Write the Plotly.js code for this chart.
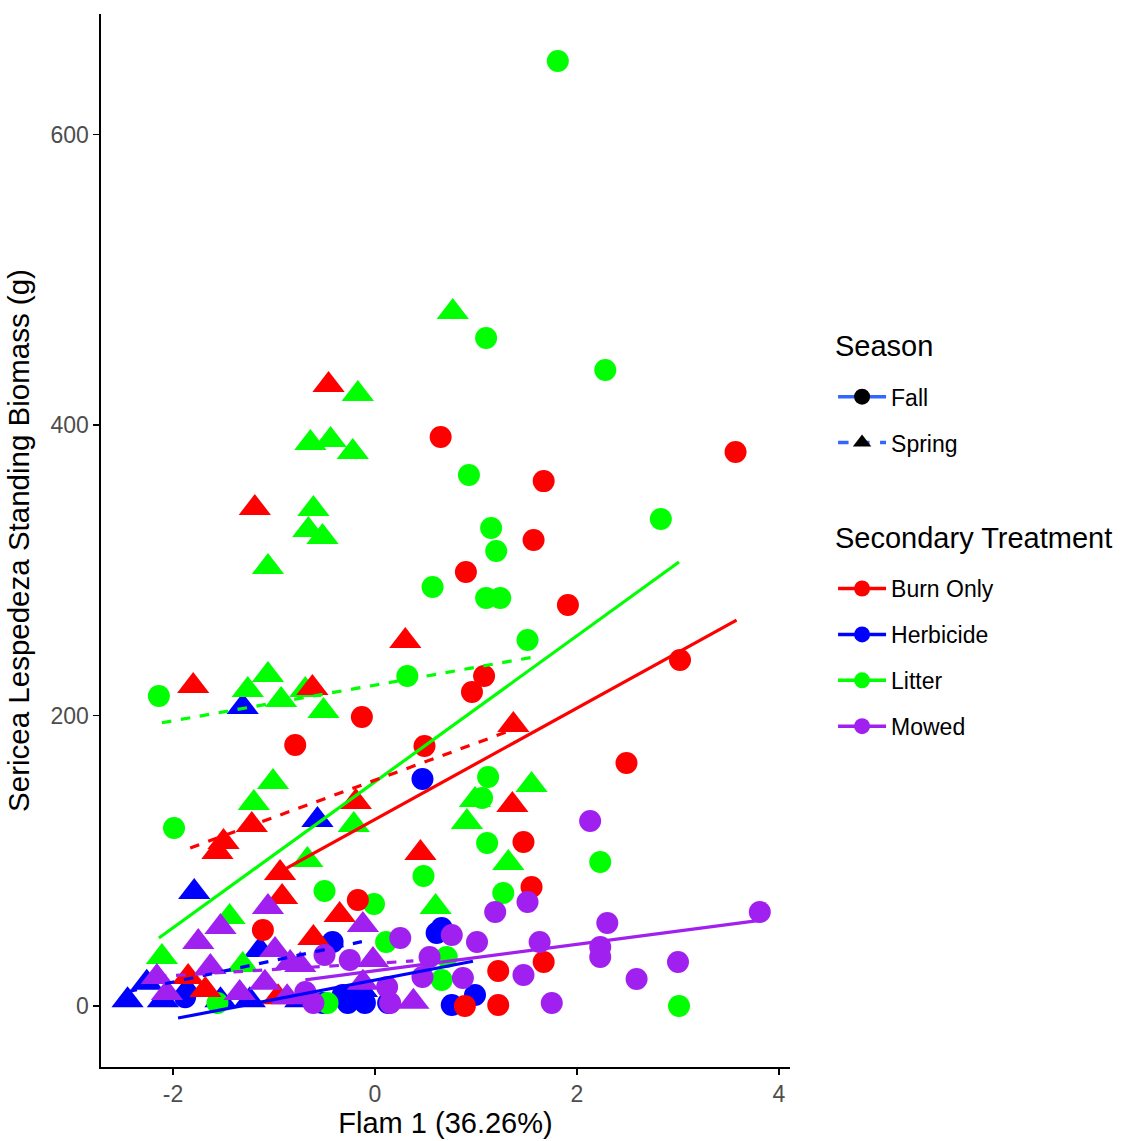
<!DOCTYPE html>
<html>
<head>
<meta charset="utf-8">
<script src="https://cdn.plot.ly/plotly-3.0.1.min.js"></script>
<style>html,body{margin:0;padding:0;background:#fff;}#chart{width:1126px;height:1141px;}</style>
</head>
<body>
<div id="chart"></div>
<script>
// ---- Data (x = Flam 1 score, y = biomass g) ----
const burnFallX = [0.65,1.67,1.57,0.90,1.91,1.08,0.96,3.57,3.02,-0.13,-0.79,0.49,1.47,2.49,1.55,-0.17,-1.11,1.67,1.22,1.22,0.89];
const burnFallY = [391.7,361.4,320.8,298.8,276.1,227.2,216.2,381.4,238.2,199,179.7,179,112.9,167.3,81.9,73,52.3,30.3,24.1,0.7,0];
const burnSpringX = [-0.46,-1.19,0.30,-1.80,-0.62,1.37,-1.22,-1.50,-1.56,-0.19,1.36,0.45,-0.94,-0.92,-0.35,-0.61,-1.85,-1.68,-0.96];
const burnSpringY = [427.5,342.9,251.3,220.3,218.9,193.5,124.6,112.9,106,140.4,138.4,105.3,91.6,75,62.7,46.8,20,11,6];

const herbFallX = [0.47,-0.42,0.61,0.66,0.99,0.76,-0.32,-0.27,-0.10,0.13,-0.52,-1.88];
const herbFallY = [156.3,44,50.3,53.7,7.6,0.7,7.6,2,2,2,2,6];
const herbSpringX = [-1.31,-0.57,-1.79,-1.14,-2.45,-2.10,-1.86,-1.53,-1.24,-0.74,-2.26,-0.13];
const herbSpringY = [205.9,128,78.5,38.6,4,4,11,4,4,4,16,11];

const litFallX = [1.81,1.10,2.28,0.93,2.83,1.15,1.20,0.57,1.10,1.24,1.51,0.32,-2.14,-1.99,1.12,1.06,1.11,2.23,-0.50,-0.01,0.48,1.27,3.01,0.66,0.71,0.11,-0.47,-1.56];
const litFallY = [650.6,459.9,437.9,365.6,335.3,329.1,313.3,288.5,280.9,280.9,252,227.2,213.4,122.5,157.7,143.2,112.2,99.1,79.2,70.2,89.5,77.8,0,17.9,33.7,44,2,2];
const litSpringX = [0.77,-0.17,-0.64,-0.44,-0.22,-0.61,-0.66,-0.52,-1.06,-1.26,-1.06,-0.93,-0.51,-0.69,-1.01,-1.20,-0.21,-0.67,-1.44,-2.11,-1.31,0.60,1.32,1.55,0.99,0.91];
const litSpringY = [477.8,421.3,387.6,389.7,381.4,342.2,327.7,322.9,302.2,217.6,227.9,210.7,203.1,217.6,154.2,139.8,124.6,100.5,61.3,33.7,28.2,68.2,98.5,152.2,141.8,126.7];

const mowFallX = [2.13,1.51,1.19,3.81,2.30,2.23,2.23,3.00,2.59,1.75,1.47,1.63,1.01,0.76,0.25,0.54,0.47,0.87,0.12,0.15,-0.50,-0.69,-0.61,-0.25];
const mowFallY = [127.4,71.6,64.7,64.7,57.1,40.6,33.7,30.3,18.6,2,21.3,44,44,48.9,46.8,33.7,20,19.3,13,2,35.1,9.6,2,31.7];
const mowSpringX = [-2.16,-1.75,-1.53,-1.63,-1.06,-0.99,-0.84,-0.12,-0.02,-2.06,-1.34,-0.87,0.38,-0.74,-0.12,-1.09];
const mowSpringY = [20,44,54.4,26.8,68.2,38.6,29.6,55.8,31.7,9,9,6,3,28.2,16,16];

// Fitted lines (end points)
const burnFallFitX = [-0.91, 3.58],  burnFallFitY = [93.6, 265.7];
const burnSpringFitX = [-1.83, 1.37], burnSpringFitY = [108.8, 190.4];
const herbFallFitX = [-1.95, 0.97],  herbFallFitY = [-8.3, 30.8];
const herbSpringFitX = [-2.45, -0.13], herbSpringFitY = [9.8, 44.3];
const litFallFitX = [-2.14, 3.01],   litFallFitY = [46.8, 305.7];
const litSpringFitX = [-2.11, 1.55], litSpringFitY = [195, 240];
const mowFallFitX = [-0.69, 3.81],   mowFallFitY = [18, 59];
const mowSpringFitX = [-2.16, 0.38], mowSpringFitY = [20.3, 31];

const treatments = ["Burn Only", "Herbicide", "Litter", "Mowed"];
const seasons = ["Fall", "Spring"];
const xTicks = [-2, 0, 2, 4];
const yTicks = [0, 200, 400, 600];

// ---- Styling ----
const COL = {"Burn Only": "#FF0000", "Herbicide": "#0000FF", "Litter": "#00FF00", "Mowed": "#A020F0"};
const SMOOTH = "#3366FF";
const CIRC = 22, TRI = 28;

const groups = [
  {t: "Herbicide", s: "Fall", x: herbFallX, y: herbFallY, fx: herbFallFitX, fy: herbFallFitY},
  {t: "Herbicide", s: "Spring", x: herbSpringX, y: herbSpringY, fx: herbSpringFitX, fy: herbSpringFitY},
  {t: "Litter", s: "Fall", x: litFallX, y: litFallY, fx: litFallFitX, fy: litFallFitY},
  {t: "Litter", s: "Spring", x: litSpringX, y: litSpringY, fx: litSpringFitX, fy: litSpringFitY},
  {t: "Burn Only", s: "Fall", x: burnFallX, y: burnFallY, fx: burnFallFitX, fy: burnFallFitY},
  {t: "Burn Only", s: "Spring", x: burnSpringX, y: burnSpringY, fx: burnSpringFitX, fy: burnSpringFitY},
  {t: "Mowed", s: "Fall", x: mowFallX, y: mowFallY, fx: mowFallFitX, fy: mowFallFitY},
  {t: "Mowed", s: "Spring", x: mowSpringX, y: mowSpringY, fx: mowSpringFitX, fy: mowSpringFitY}
];

const traces = [];
groups.forEach(g => {
  traces.push({
    type: "scatter", mode: "markers", x: g.x, y: g.y, showlegend: false, hoverinfo: "x+y",
    marker: {color: COL[g.t], size: g.s === "Fall" ? CIRC : TRI,
             symbol: g.s === "Fall" ? "circle" : "triangle-up", line: {width: 0}}
  });
});
groups.forEach(g => {
  traces.push({
    type: "scatter", mode: "lines", x: g.fx, y: g.fy, showlegend: false, hoverinfo: "skip",
    line: {color: COL[g.t], width: 3.2, dash: g.s === "Fall" ? "solid" : "dash"}
  });
});

// Legend entries
seasons.forEach((s, i) => {
  traces.push({
    type: "scatter", mode: "lines+markers", x: [null], y: [null], name: s,
    legend: "legend", legendgroup: "s" + i, showlegend: true,
    marker: {color: "#000000", size: 16, symbol: s === "Fall" ? "circle" : "triangle-up"},
    line: {color: SMOOTH, width: 3.5, dash: s === "Fall" ? "solid" : "dash"}
  });
});
treatments.forEach((t, i) => {
  traces.push({
    type: "scatter", mode: "lines+markers", x: [null], y: [null], name: t,
    legend: "legend2", legendgroup: "t" + i, showlegend: true,
    marker: {color: COL[t], size: 16, symbol: "circle"},
    line: {color: COL[t], width: 3.5}
  });
});

const FONT = "Liberation Sans, Arial, sans-serif";
const legendCommon = {
  x: 1.0625, xanchor: "left", yanchor: "top",
  font: {family: FONT, size: 23, color: "#000000"}, itemwidth: 48,
  traceorder: "grouped", tracegroupgap: 13, bgcolor: "rgba(0,0,0,0)", borderwidth: 0
};
const layout = {
  width: 1126, height: 1141,
  paper_bgcolor: "#FFFFFF", plot_bgcolor: "#FFFFFF",
  margin: {l: 101, r: 336, t: 14, b: 74},
  font: {family: FONT, color: "#000000"},
  xaxis: {
    range: [-2.713, 4.109], tickvals: xTicks, ticktext: xTicks.map(String),
    showgrid: false, zeroline: false, showline: true, linecolor: "#000000", linewidth: 1.6,
    ticks: "outside", ticklen: 6, tickwidth: 1.4, tickcolor: "#000000",
    tickfont: {family: FONT, size: 23, color: "#4D4D4D"},
    title: {text: "Flam 1 (36.26%)", font: {family: FONT, size: 29, color: "#000000"}, standoff: 5}
  },
  yaxis: {
    range: [-42, 683], tickvals: yTicks, ticktext: yTicks.map(String),
    showgrid: false, zeroline: false, showline: true, linecolor: "#000000", linewidth: 1.6,
    ticks: "outside", ticklen: 6, tickwidth: 1.4, tickcolor: "#000000",
    tickfont: {family: FONT, size: 23, color: "#4D4D4D"},
    title: {text: "Sericea Lespedeza Standing Biomass (g)", font: {family: FONT, size: 29.5, color: "#000000"}, standoff: 12}
  },
  legend: Object.assign({}, legendCommon, {y: 0.657}),
  legend2: Object.assign({}, legendCommon, {y: 0.4748}),
  annotations: [
    {text: "Season", xref: "paper", yref: "paper", x: 1.0625, y: 0.6847, xanchor: "left", yanchor: "middle",
     showarrow: false, font: {family: FONT, size: 29, color: "#000000"}},
    {text: "Secondary Treatment", xref: "paper", yref: "paper", x: 1.0625, y: 0.5024, xanchor: "left", yanchor: "middle",
     showarrow: false, font: {family: FONT, size: 29, color: "#000000"}}
  ]
};

Plotly.newPlot("chart", traces, layout, {displayModeBar: false, staticPlot: true});
</script>
</body>
</html>
